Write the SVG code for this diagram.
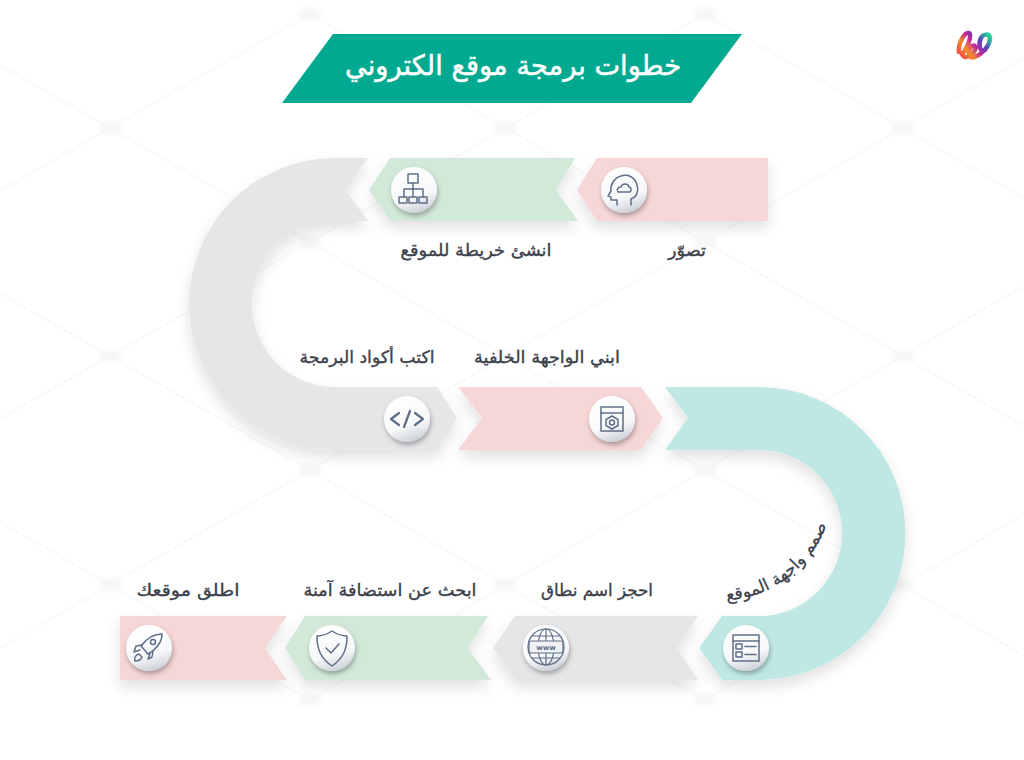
<svg xmlns="http://www.w3.org/2000/svg" width="1024" height="760" viewBox="0 0 1024 760">
<defs>
<filter id="soft" x="-20%" y="-30%" width="140%" height="170%"><feDropShadow dx="0" dy="7" stdDeviation="7" flood-color="#000" flood-opacity="0.12"/></filter>
<filter id="btn" x="-40%" y="-40%" width="180%" height="180%"><feDropShadow dx="1" dy="3" stdDeviation="2.5" flood-color="#000" flood-opacity="0.3"/></filter>
<filter id="blur" x="-50%" y="-50%" width="200%" height="200%"><feGaussianBlur stdDeviation="2.500"/></filter>
<linearGradient id="ball" x1="0.3" y1="0" x2="0.6" y2="1"><stop offset="0" stop-color="#ffffff"/><stop offset="0.65" stop-color="#f7f8fa"/><stop offset="1" stop-color="#ccd0d7"/></linearGradient>
<linearGradient id="logo" x1="0" y1="0.8" x2="1" y2="0.2"><stop offset="0" stop-color="#f0533f"/><stop offset="0.25" stop-color="#f58a2c"/><stop offset="0.5" stop-color="#c0279a"/><stop offset="0.72" stop-color="#5b3fc0"/><stop offset="1" stop-color="#27cf9a"/></linearGradient>
<circle id="b" r="23" fill="url(#ball)" filter="url(#btn)"/>
<path id="arcpath" d="M718 601Q800 598 830 517" fill="none"/>
</defs>
<style>
.bg{fill:none;stroke:#f8f8f8;stroke-width:1.5}
.hub{fill:#f6f6f6;filter:url(#blur)}
.pink{fill:#f6d6d7}.green{fill:#d2e9d9}.grey{fill:#e4e6e8}.teal{fill:#bfe8e5}
.ic{fill:none;stroke:#5f6f88;stroke-width:1.5;stroke-linejoin:round;stroke-linecap:round}
.t{font-family:"DejaVu Sans","Noto Sans",sans-serif;font-size:17px;fill:#3b404a;stroke:#3b404a;stroke-width:0.35;text-anchor:middle;direction:rtl}
</style>
<rect width="1024" height="760" fill="#ffffff"/>
<g id="background">
<path class="bg" d="M-90 14L110 128L310 14L505 128L705 14L903 128L1100 14M-90 242L110 128L310 242L505 128L705 242L903 128L1100 242M-90 242L110 356L310 242L505 356L705 242L903 356L1100 242M-90 470L110 356L310 470L505 356L705 470L903 356L1100 470M-90 470L110 585L310 470L505 585L705 470L903 585L1100 470M-90 700L110 585L310 700L505 585L705 700L903 585L1100 700"/>
<g class="hub"><rect x="99" y="122" width="22" height="12" rx="6"/><rect x="892" y="122" width="22" height="12" rx="6"/><rect x="494" y="122" width="22" height="12" rx="6"/><rect x="99" y="350" width="22" height="12" rx="6"/><rect x="892" y="350" width="22" height="12" rx="6"/><rect x="494" y="350" width="22" height="12" rx="6"/><rect x="299" y="236" width="22" height="12" rx="6"/><rect x="694" y="236" width="22" height="12" rx="6"/><rect x="299" y="464" width="22" height="12" rx="6"/><rect x="694" y="464" width="22" height="12" rx="6"/><rect x="99" y="579" width="22" height="12" rx="6"/><rect x="494" y="579" width="22" height="12" rx="6"/><rect x="892" y="579" width="22" height="12" rx="6"/><rect x="299" y="8" width="22" height="12" rx="6"/><rect x="694" y="8" width="22" height="12" rx="6"/><rect x="299" y="694" width="22" height="12" rx="6"/><rect x="694" y="694" width="22" height="12" rx="6"/></g>
</g>
<g id="title">
<polygon points="333,34 742,34 691,103 282,103" fill="#00a98f"/>
<text x="513" y="75" textLength="336" lengthAdjust="spacingAndGlyphs" style="font-family:'DejaVu Sans','Noto Sans',sans-serif;font-size:28px;fill:#fff;stroke:#fff;stroke-width:0.5;text-anchor:middle;direction:rtl">خطوات برمجة موقع الكتروني</text>
</g>
<g id="logo-mark" fill="none" stroke="url(#logo)" stroke-width="4.500" stroke-linecap="round" stroke-linejoin="round">
<path d="M959 52C958 44 964 32 969 33C973 35 966 50 962 54C964 60 972 56 975 50C977 45 973 44 970 48C967 53 970 59 975 57C982 54 990 46 990 38C989 33 983 34 981 38C978 44 980 54 985 50"/>
</g>
<g id="step-imagine"><polygon class="pink" points="768,158 768,221 597,221 577,190 597,158" filter="url(#soft)"/><use href="#b" x="624" y="190"/>
<g class="ic"><path d="M631 205V199C637 197 639 190 637 185C635 177 628 174 621 176C614 178 610 185 611 191L608 196L611 197V200L617 200V205"/><path d="M618 192H630C632 190 631 187 629 187C628 183 622 183 621 187C618 187 616 190 618 192Z"/></g>
<text class="t" x="687" y="256" textLength="38" lengthAdjust="spacingAndGlyphs">تصوّر</text></g>
<g id="step-sitemap"><polygon class="green" points="575,158 556,190 578,221 390,221 369,190 390,158" filter="url(#soft)"/><use href="#b" x="414" y="190"/>
<g class="ic"><rect x="408" y="174" width="10" height="9"/><path d="M413 183V189M404 197V189H423V197"/><path d="M413 189V197"/><rect x="399" y="197" width="8" height="6"/><rect x="409" y="197" width="8" height="6"/><rect x="419" y="197" width="8" height="6"/></g>
<text class="t" x="476" y="256" textLength="151" lengthAdjust="spacingAndGlyphs">انشئ خريطة للموقع</text></g>
<g id="step-code"><path class="grey" d="M368 158L345 190L368 221H335A83 83 0 0 0 335 387H437L457 418L437 450H335A146 146 0 0 1 335 158Z" filter="url(#soft)"/><use href="#b" x="407" y="419"/>
<g class="ic" style="stroke-width:2.2"><path d="M399 413L391 419L399 425M415 413L423 419L415 425M410 411L404 427"/></g>
<text class="t" x="367" y="363" textLength="135" lengthAdjust="spacingAndGlyphs">اكتب أكواد البرمجة</text></g>
<g id="step-backend"><polygon class="pink" points="458,387 641,387 663,418 641,450 458,450 482,418" filter="url(#soft)"/><use href="#b" x="612" y="419"/>
<g class="ic"><rect x="601" y="407" width="22" height="24"/><path d="M601 413H623"/><path d="M612 416L618 419.500V425.500L612 429L606 425.500V419.500Z"/><circle cx="612" cy="422.500" r="2.500"/></g>
<text class="t" x="547" y="363" textLength="146" lengthAdjust="spacingAndGlyphs">ابني الواجهة الخلفية</text></g>
<g id="step-design"><path class="teal" d="M665 387H759A146.500 146.500 0 0 1 759 680H722L699 648L722 616H759A83 83 0 0 0 759 450H665L688 418Z" filter="url(#soft)"/><use href="#b" x="746" y="648"/>
<g class="ic"><rect x="733" y="635" width="26" height="26"/><path d="M733 641H759"/><rect x="736" y="644" width="6" height="5"/><rect x="736" y="652" width="6" height="5"/><path d="M745 646.500H756M745 654.500H756"/></g>
<text style="font-family:'DejaVu Sans','Noto Sans',sans-serif;font-size:17px;fill:#3b404a;stroke:#3b404a;stroke-width:0.3;text-anchor:middle;direction:rtl"><textPath href="#arcpath" startOffset="50%">صمم واجهة الموقع</textPath></text></g>
<g id="step-domain"><polygon class="grey" points="698,616 677,648 698,680 515,680 493,648 515,616" filter="url(#soft)"/><use href="#b" x="546" y="648"/>
<g class="ic" style="stroke-width:1.2"><circle cx="546" cy="647" r="18"/><ellipse cx="546" cy="647" rx="8" ry="18"/><path d="M546 629V665M532 636H560M532 658H560"/><rect x="529" y="641" width="34" height="12" rx="2" fill="#f0f1f3"/></g>
<text x="546" y="650" style="font-family:'DejaVu Sans',sans-serif;font-size:7px;font-weight:bold;fill:#5f6f88;text-anchor:middle">www</text>
<text class="t" x="597" y="596" textLength="112" lengthAdjust="spacingAndGlyphs">احجز اسم نطاق</text></g>
<g id="step-hosting"><polygon class="green" points="488,616 468,648 491,680 305,680 285,648 305,616" filter="url(#soft)"/><use href="#b" x="332" y="648"/>
<g class="ic"><path d="M332 631C326 635 322 636 317 636C317 648 320 658 332 666C344 658 347 648 347 636C342 636 338 635 332 631Z"/><path d="M326 648L331 653L339 644"/></g>
<text class="t" x="390" y="596" textLength="173" lengthAdjust="spacingAndGlyphs">ابحث عن استضافة آمنة</text></g>
<g id="step-launch"><polygon class="pink" points="120,616 287,616 265,648 287,680 120,680" filter="url(#soft)"/><use href="#b" x="149" y="648"/>
<g class="ic"><path d="M162 634C154 634 147 638 141 646L148 654C156 650 162 642 162 634Z"/><circle cx="153" cy="642" r="2.500"/><path d="M142 645L136 646L134 652L140 650M150 653L148 659L152 657L153 651"/><path d="M139 654C135 655 134 658 135 661C138 661 141 660 142 657Z"/></g>
<text class="t" x="188" y="596" textLength="103" lengthAdjust="spacingAndGlyphs">اطلق موقعك</text></g>
</svg>
